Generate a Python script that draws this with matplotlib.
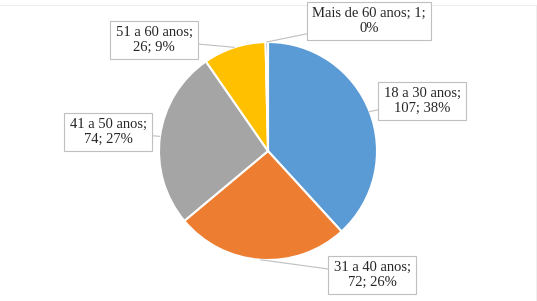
import numpy as np
import matplotlib.pyplot as plt

# Faixas etárias e quantidades
categorias = ["18 a 30 anos", "31 a 40 anos", "41 a 50 anos", "51 a 60 anos", "Mais de 60 anos"]
valores = [107, 72, 74, 26, 1]
percentuais = ["38%", "26%", "27%", "9%", "0%"]
cores = ["#5B9BD5", "#ED7D31", "#A5A5A5", "#FFC000", "#4472C4"]

# texto de cada rótulo (quebra de linha como no original)
rotulos = [
    "18 a 30 anos;\n107; 38%",
    "31 a 40 anos;\n72; 26%",
    "41 a 50 anos;\n74; 27%",
    "51 a 60 anos;\n26; 9%",
    "Mais de 60 anos; 1;\n0%",
]
# posição (pixels, origem no topo) do centro de cada caixa
pos_rotulos = [(422, 101), (372, 275), (108, 132), (154, 40), (369, 21)]

W, H = 537, 301
fig = plt.figure(figsize=(W / 100, H / 100), dpi=100)
ax = fig.add_axes([0, 0, 1, 1])
ax.set_aspect("equal")

centro = (268, H - 151)
raio = 109

wedges, _ = ax.pie(valores, colors=cores, startangle=90, counterclock=False,
                   center=centro, radius=raio, frame=True,
                   wedgeprops=dict(edgecolor="white", linewidth=1.5))
ax.set_xlim(0, W)
ax.set_ylim(0, H)
ax.axis("off")

for w, txt, (px, py) in zip(wedges, rotulos, pos_rotulos):
    ang = np.deg2rad((w.theta1 + w.theta2) / 2)
    ponto = (centro[0] + raio * np.cos(ang), centro[1] + raio * np.sin(ang))
    ax.annotate(txt, xy=ponto, xytext=(px, H - py), ha="center", va="center",
                fontsize=10.5, family="Liberation Serif", color="#262626",
                linespacing=1.15,
                bbox=dict(boxstyle="square,pad=0.35", fc="white", ec="#BFBFBF", lw=0.8),
                arrowprops=dict(arrowstyle="-", color="#BFBFBF", lw=0.8,
                                shrinkA=0, shrinkB=0))

# borda clara do gráfico
ax.plot([0, W - 1], [H - 5, H - 5], color="#EFEFEF", lw=0.8)
ax.plot([W - 1, W - 1], [0, H - 5], color="#EFEFEF", lw=0.8)

fig.savefig("out.png", dpi=100)
